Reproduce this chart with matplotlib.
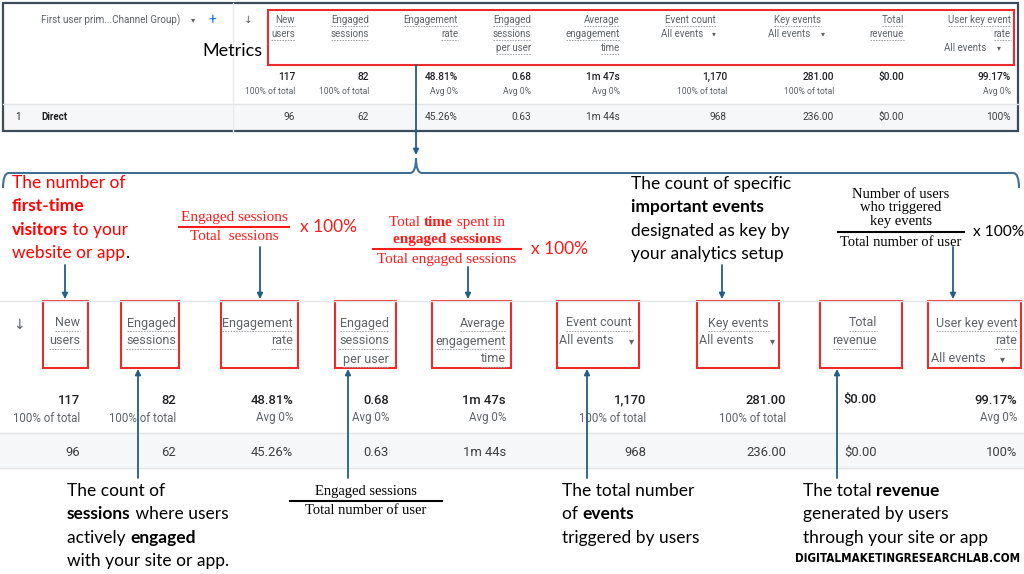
import matplotlib.pyplot as plt
from matplotlib.patches import Rectangle, PathPatch
from matplotlib.path import Path

# ---- table content (GA4 report) ----
metric_headers = [["New", "users"], ["Engaged", "sessions"], ["Engagement", "rate"],
                  ["Engaged", "sessions", "per user"], ["Average", "engagement", "time"],
                  ["Event count"], ["Key events"], ["Total", "revenue"], ["User key event", "rate"]]
metric_filter = [None, None, None, None, None, "All events", "All events", None, "All events"]
total_values = ["117", "82", "48.81%", "0.68", "1m 47s", "1,170", "281.00", "$0.00", "99.17%"]
total_notes = ["100% of total", "100% of total", "Avg 0%", "Avg 0%", "Avg 0%",
               "100% of total", "100% of total", "", "Avg 0%"]
direct_values = ["96", "62", "45.26%", "0.63", "1m 44s", "968", "236.00", "$0.00", "100%"]
row_rank = "1"
row_name = "Direct"
dimension_name = "First user prim...Channel Group)"

# ---- annotation texts ----
new_users_note = [[("The number of", False, "red")],
                  [("first-time", True, "red")],
                  [("visitors", True, "red"), (" to your", False, "red")],
                  [("website or app", False, "red"), (".", False, "black")]]
key_events_note = [[("The count of specific", False, "black")],
                   [("important events", True, "black")],
                   [("designated as key by", False, "black")],
                   [("your analytics setup", False, "black")]]
sessions_note = [[("The count of", False, "black")],
                 [("sessions", True, "black"), (" where users", False, "black")],
                 [("actively ", False, "black"), ("engaged", True, "black")],
                 [("with your site or app.", False, "black")]]
events_note = [[("The total number", False, "black")],
               [("of ", False, "black"), ("events", True, "black")],
               [("triggered by users", False, "black")]]
revenue_note = [[("The total ", False, "black"), ("revenue", True, "black")],
                [("generated by users", False, "black")],
                [("through your site or app", False, "black")]]
rate_formula = (["Engaged sessions"], ["Total  sessions"])
time_formula = ([[("Total ", False), ("time", True), (" spent in", False)], [("engaged sessions", True)]],
                ["Total engaged sessions"])
key_rate_formula = (["Number of users", "who triggered", "key events"], ["Total number of user"])
per_user_formula = (["Engaged sessions"], ["Total number of user"])
watermark = "DIGITALMAKETINGRESEARCHLAB.COM"

ARROW = "#245e82"
BOX_RED = "#ee2b2b"
TXT_RED = "#ff1a1a"
GRAY = "#5f6368"
DARK = "#202124"
SANS = ["Lato", "DejaVu Sans"]
SERIF = ["Liberation Serif", "DejaVu Serif"]
UI = ["Roboto", "DejaVu Sans"]

fig = plt.figure(figsize=(10.24, 5.74), dpi=100)
ax = fig.add_axes([0, 0, 1, 1])
ax.set_xlim(0, 1024)
ax.set_ylim(574, 0)
ax.axis("off")
renderer = fig.canvas.get_renderer()


def width_of(t):
    return t.get_window_extent(renderer=renderer).width


def rich_line(x, y, parts, size, family=SANS):
    for text, bold, color in parts:
        t = ax.text(x, y, text, fontsize=size, family=family, color=color,
                    fontweight="bold" if bold else "normal", va="center", ha="left")
        x += width_of(t)


def note_block(x, y0, lines, size=12.5, step=23.3):
    for i, parts in enumerate(lines):
        rich_line(x, y0 + i * step, parts, size)


def arrow(x, y_from, y_to):
    ax.annotate("", xy=(x, y_to), xytext=(x, y_from),
                arrowprops=dict(arrowstyle="-|>", color=ARROW, lw=1.3,
                                mutation_scale=8, shrinkA=0, shrinkB=0))


def fraction(cx, num_lines, den_lines, y_bar, half, color, size, step,
             suffix_x=None, suffix_size=12.5):
    for i, line in enumerate(num_lines):
        y = y_bar - 10 - (len(num_lines) - 1 - i) * step
        if isinstance(line, str):
            ax.text(cx, y, line, fontsize=size, family=SERIF, color=color, ha="center", va="center")
        else:
            total = 0
            pieces = []
            for text, bold in line:
                t = ax.text(0, y, text, fontsize=size, family=SERIF, color=color,
                            fontweight="bold" if bold else "normal", va="center", ha="left")
                pieces.append(t)
                total += width_of(t)
            x = cx - total / 2
            for t in pieces:
                t.set_x(x)
                x += width_of(t)
    ax.plot([cx - half, cx + half], [y_bar, y_bar], color=color, lw=1.5)
    for i, line in enumerate(den_lines):
        ax.text(cx, y_bar + 10 + i * step, line, fontsize=size, family=SERIF, color=color,
                ha="center", va="center")
    if suffix_x is not None:
        ax.text(suffix_x, y_bar, "x 100%", fontsize=suffix_size, family=SANS, color=color,
                va="center")


def ga_table(head_x, val_x, filt_x, caret_x, head_y, tot_y, note_y, dir_y, hsize, vsize, nsize):
    for i, lines in enumerate(metric_headers):
        for j, line in enumerate(lines):
            t = ax.text(head_x[i], head_y[j], line, fontsize=hsize, family=UI, color=GRAY,
                        ha="right", va="center")
            bb = t.get_window_extent(renderer=renderer)
            yu = head_y[j] + hsize * 0.85
            ax.plot([bb.x0, bb.x1], [yu, yu], color="#a0a4a8", lw=0.7, ls=(0, (1.6, 1.2)))
        if metric_filter[i]:
            yf = head_y[len(lines)]
            ax.text(filt_x[i], yf, metric_filter[i], fontsize=hsize, family=UI, color=GRAY,
                    ha="left", va="center")
            ax.text(caret_x[i], yf, "\u25be", fontsize=hsize * 0.8, family=UI, color=GRAY,
                    ha="center", va="center")
        ax.text(val_x[i], tot_y, total_values[i], fontsize=vsize, family=UI, color=DARK,
                fontweight="medium", ha="right", va="center")
        if total_notes[i]:
            ax.text(val_x[i], note_y, total_notes[i], fontsize=nsize, family=UI, color=GRAY,
                    ha="right", va="center")
        ax.text(val_x[i], dir_y, direct_values[i], fontsize=vsize, family=UI, color="#3c4043",
                ha="right", va="center")


# ---------------- top screenshot ----------------
ax.add_patch(Rectangle((3, 104), 1015, 27, color="#f6f7f8", zorder=0))
ax.plot([3, 1018], [104, 104], color="#e1e3e6", lw=1)
ax.plot([233, 233], [3, 131], color="#e8eaed", lw=1)
ax.add_patch(Rectangle((3, 3), 1015, 128, fill=False, ec="#3d4b5a", lw=1.6))
ax.text(41, 20, dimension_name, fontsize=7.1, family=UI, color=GRAY, va="center")
ax.text(193, 20, "\u25be", fontsize=6, family=UI, color=GRAY, va="center", ha="center")
ax.text(212, 20, "+", fontsize=10, family=UI, color="#1a73e8", va="center", ha="center")
ax.text(248, 20, "\u2193", fontsize=7.5, family=UI, color=GRAY, va="center", ha="center")
ax.text(15, 117, row_rank, fontsize=7, family=UI, color=DARK, va="center")
ax.text(41, 117, row_name, fontsize=7, family=UI, color=DARK, fontweight="bold", va="center")
ga_table([295, 369, 458, 531, 620, 716, 821, 904, 1011],
         [295, 369, 458, 531, 620, 727, 834, 904, 1011],
         [None, None, None, None, None, 661, 768, None, 944],
         [None, None, None, None, None, 714, 823, None, 999],
         [20, 34, 48], 77, 92, 117, 7.0, 7.3, 6.2)
ax.add_patch(Rectangle((268, 10), 746, 55, fill=False, ec=BOX_RED, lw=1.5))
ax.text(263, 51, "Metrics", fontsize=13, family=SANS, color="black", ha="right", va="center")

# brace under the screenshot
verts = [(3, 188), (3, 173), (9, 173), (410, 173), (416, 173), (416, 158),
         (416, 173), (422, 173), (1013, 173), (1019, 173), (1019, 188)]
codes = [Path.MOVETO, Path.CURVE3, Path.CURVE3, Path.LINETO, Path.CURVE3, Path.CURVE3,
         Path.CURVE3, Path.CURVE3, Path.LINETO, Path.CURVE3, Path.CURVE3]
ax.add_patch(PathPatch(Path(verts, codes), fill=False, ec="#3f6f94", lw=1.5))
arrow(416, 65, 155)

# ---------------- explanations above ----------------
note_block(12, 183, new_users_note)
arrow(65, 265, 299)
fraction(234, rate_formula[0], rate_formula[1], 227, 55, TXT_RED, 11, 16, suffix_x=300)
arrow(260, 247, 299)
fraction(447, time_formula[0], time_formula[1], 249, 74, TXT_RED, 11, 16.5, suffix_x=531)
arrow(468, 267, 299)
note_block(631, 184, key_events_note)
arrow(722, 265, 299)
fraction(901, key_rate_formula[0], key_rate_formula[1], 232, 63, "black", 10.5, 14,
         suffix_x=973, suffix_size=11.2)
arrow(953, 247, 299)

# ---------------- enlarged header ----------------
ax.plot([0, 1024], [301, 301], color="#e3e5e8", lw=1)
ax.add_patch(Rectangle((0, 433), 1024, 35, color="#f6f7f8", zorder=0))
ax.plot([0, 1024], [433, 433], color="#e1e3e6", lw=1)
ax.plot([0, 1024], [468, 468], color="#e1e3e6", lw=1)
ax.text(19, 325, "\u2193", fontsize=10, family=UI, color=GRAY, va="center", ha="center")
ga_table([80, 176, 293, 389, 506, 632, 769, 877, 1017],
         [80, 176, 293, 389, 506, 646, 786, 877, 1017],
         [None, None, None, None, None, 559, 699, None, 931],
         [None, None, None, None, None, 631, 772, None, 1002],
         [323, 341, 359], 400, 418, 452, 9, 9.4, 8.3)
for x0, x1 in [(43, 88), (121, 179), (221, 298), (335, 396), (432, 511),
               (557, 639), (697, 779), (820, 902), (928, 1021)]:
    ax.add_patch(Rectangle((x0, 301), x1 - x0, 67, fill=False, ec=BOX_RED, lw=1.5))

# ---------------- explanations below ----------------
for x in [138, 348, 587, 837]:
    arrow(x, 478, 369)
note_block(67, 491, sessions_note)
fraction(366, per_user_formula[0], per_user_formula[1], 501, 76, "black", 10.5, 14)
note_block(562, 491, events_note)
note_block(803, 491, revenue_note)

wm = ax.text(795, 558, watermark, fontsize=14, family="DejaVu Sans", fontstretch="condensed",
             fontweight="bold", color="black", va="center", ha="left")
wm.set_fontsize(14 * 226 / width_of(wm))

fig.savefig("out.png", dpi=100)
